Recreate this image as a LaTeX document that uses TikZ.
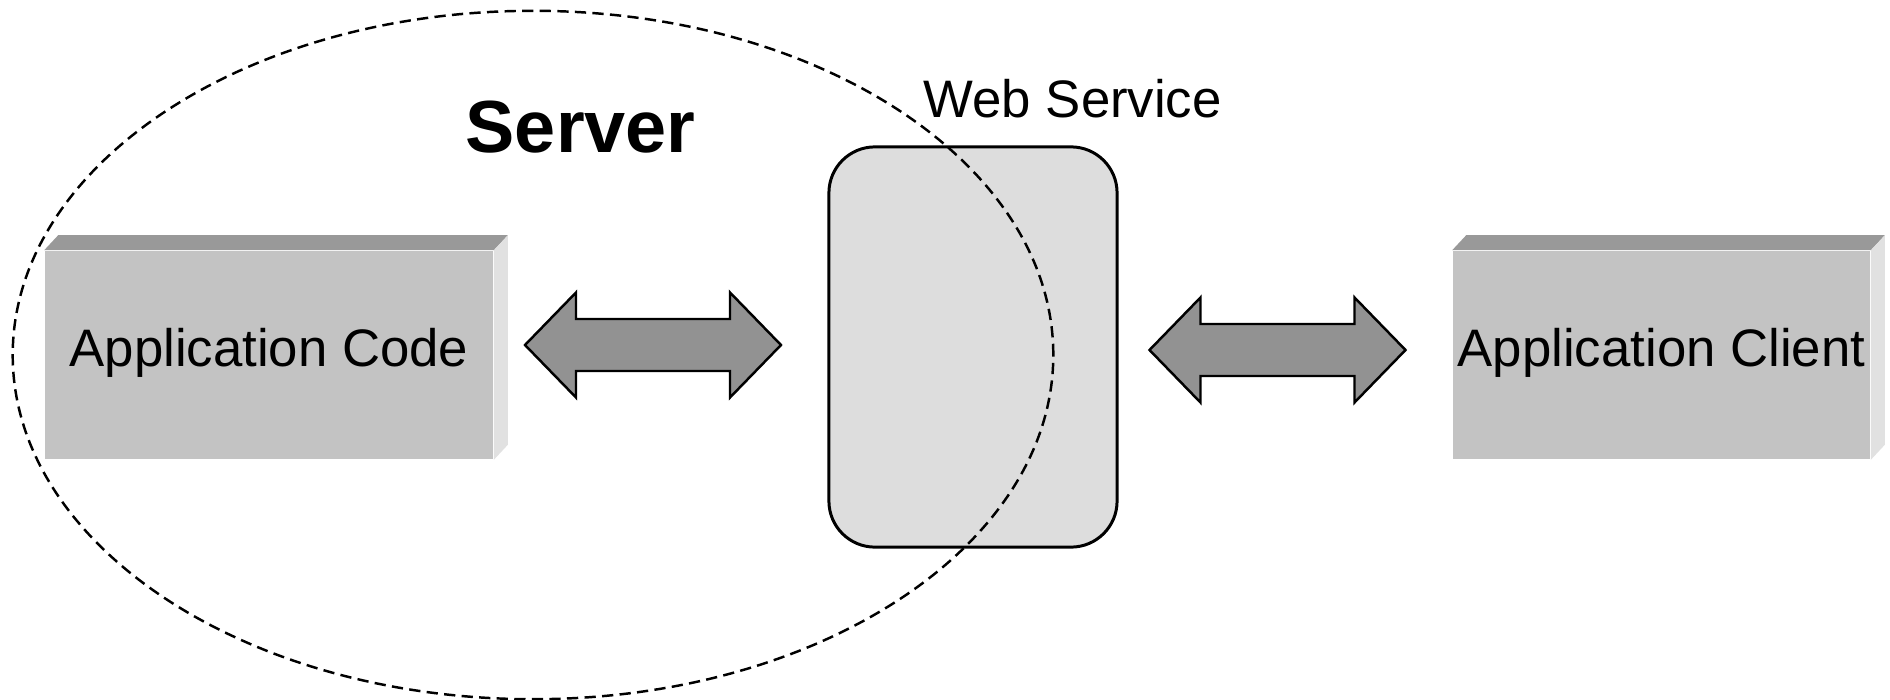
\documentclass[tikz,border=0pt]{standalone}
\usepackage{fontspec}
\setmainfont{Liberation Sans}
\usetikzlibrary{shapes.geometric}
\definecolor{frontgray}{HTML}{C3C3C3}
\definecolor{topgray}{HTML}{999999}
\definecolor{sidegray}{HTML}{E1E1E1}
\definecolor{wsgray}{HTML}{DDDDDD}
\definecolor{arrowgray}{HTML}{929292}
\begin{document}
\begin{tikzpicture}[x=0.01cm,y=-0.01cm,
  face/.style={fill=frontgray, inner sep=0pt, minimum height=2.08cm,
    font=\fontsize{15}{18}\selectfont, text height=0.73em, text depth=0.09em},
  topface/.style={fill=topgray},
  sideface/.style={fill=sidegray},
  wsbox/.style={draw, line width=0.85pt, fill=wsgray, rounded corners=0.46cm,
    minimum width=2.88cm, minimum height=4cm, inner sep=0pt},
  blockarrow/.style={draw, line width=0.7pt, fill=arrowgray, line join=miter},
  srvellipse/.style={ellipse, draw, line width=0.7pt, dash pattern=on 3.2pt off 1.8pt,
    minimum width=10.4cm, minimum height=6.88cm, inner sep=0pt},
  lbl/.style={anchor=base west, inner sep=0pt, font=\fontsize{15}{18}\selectfont},
  biglbl/.style={anchor=base west, inner sep=0pt, font=\fontsize{21}{25}\selectfont\bfseries}
]
\useasboundingbox (0,0) rectangle (1890,700);
\fill[white] (0,0) rectangle (1890,700);

% Application Code box
\node[face, minimum width=4.48cm] (code) at (269,355) {Application Code};
\fill[topface] (code.north west) -- ([shift={(14,-15)}]code.north west)
  -- ([shift={(14,-15)}]code.north east) -- (code.north east) -- cycle;
\fill[sideface] (code.north east) -- ([shift={(14,-15)}]code.north east)
  -- ([shift={(14,-15)}]code.south east) -- (code.south east) -- cycle;

% Application Client box
\node[face, minimum width=4.17cm] (client) at (1661.5,355) {Application Client};
\fill[topface] (client.north west) -- ([shift={(14,-15)}]client.north west)
  -- ([shift={(14,-15)}]client.north east) -- (client.north east) -- cycle;
\fill[sideface] (client.north east) -- ([shift={(14,-15)}]client.north east)
  -- ([shift={(14,-15)}]client.south east) -- (client.south east) -- cycle;

% Web Service box
\node[wsbox] (ws) at (973,347) {};

% Double block arrows
\coordinate (a1) at (653,345);
\coordinate (a2) at (1277.5,350);
\foreach \c in {a1,a2}{
  \draw[blockarrow] ([shift={(-128,0)}]\c) -- ++(51,-52.5) -- ++(0,26.5) -- ++(154,0)
    -- ++(0,-26.5) -- ++(51,52.5) -- ++(-51,52.5) -- ++(0,-26.5) -- ++(-154,0)
    -- ++(0,26.5) -- cycle;
}

% Server ellipse
\node[srvellipse] (server) at (533,355) {};

% Labels
\node[biglbl] (srvlabel) at (465,152) {Server};
\node[lbl] (wslabel) at (923,117) {Web Service};
\end{tikzpicture}
\end{document}
